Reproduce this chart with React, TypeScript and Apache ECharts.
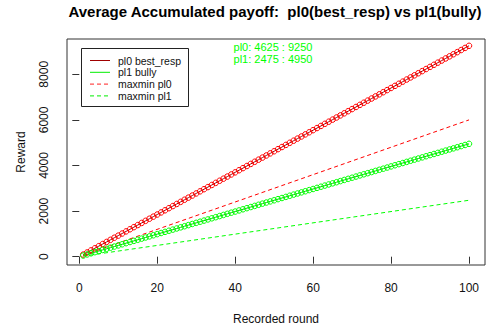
import React, { useEffect, useRef } from "react";
import * as echarts from "echarts";

const rounds = [
  1, 2, 3, 4, 5, 6, 7, 8, 9, 10, 11, 12, 13, 14, 15, 16, 17, 18, 19, 20,
  21, 22, 23, 24, 25, 26, 27, 28, 29, 30, 31, 32, 33, 34, 35, 36, 37, 38, 39, 40,
  41, 42, 43, 44, 45, 46, 47, 48, 49, 50, 51, 52, 53, 54, 55, 56, 57, 58, 59, 60,
  61, 62, 63, 64, 65, 66, 67, 68, 69, 70, 71, 72, 73, 74, 75, 76, 77, 78, 79, 80,
  81, 82, 83, 84, 85, 86, 87, 88, 89, 90, 91, 92, 93, 94, 95, 96, 97, 98, 99, 100,
];

const pl0BestResp = [
  92.5, 185, 277.5, 370, 462.5, 555, 647.5, 740, 832.5, 925,
  1017.5, 1110, 1202.5, 1295, 1387.5, 1480, 1572.5, 1665, 1757.5, 1850,
  1942.5, 2035, 2127.5, 2220, 2312.5, 2405, 2497.5, 2590, 2682.5, 2775,
  2867.5, 2960, 3052.5, 3145, 3237.5, 3330, 3422.5, 3515, 3607.5, 3700,
  3792.5, 3885, 3977.5, 4070, 4162.5, 4255, 4347.5, 4440, 4532.5, 4625,
  4717.5, 4810, 4902.5, 4995, 5087.5, 5180, 5272.5, 5365, 5457.5, 5550,
  5642.5, 5735, 5827.5, 5920, 6012.5, 6105, 6197.5, 6290, 6382.5, 6475,
  6567.5, 6660, 6752.5, 6845, 6937.5, 7030, 7122.5, 7215, 7307.5, 7400,
  7492.5, 7585, 7677.5, 7770, 7862.5, 7955, 8047.5, 8140, 8232.5, 8325,
  8417.5, 8510, 8602.5, 8695, 8787.5, 8880, 8972.5, 9065, 9157.5, 9250,
];

const pl1Bully = [
  49.5, 99, 148.5, 198, 247.5, 297, 346.5, 396, 445.5, 495,
  544.5, 594, 643.5, 693, 742.5, 792, 841.5, 891, 940.5, 990,
  1039.5, 1089, 1138.5, 1188, 1237.5, 1287, 1336.5, 1386, 1435.5, 1485,
  1534.5, 1584, 1633.5, 1683, 1732.5, 1782, 1831.5, 1881, 1930.5, 1980,
  2029.5, 2079, 2128.5, 2178, 2227.5, 2277, 2326.5, 2376, 2425.5, 2475,
  2524.5, 2574, 2623.5, 2673, 2722.5, 2772, 2821.5, 2871, 2920.5, 2970,
  3019.5, 3069, 3118.5, 3168, 3217.5, 3267, 3316.5, 3366, 3415.5, 3465,
  3514.5, 3564, 3613.5, 3663, 3712.5, 3762, 3811.5, 3861, 3910.5, 3960,
  4009.5, 4059, 4108.5, 4158, 4207.5, 4257, 4306.5, 4356, 4405.5, 4455,
  4504.5, 4554, 4603.5, 4653, 4702.5, 4752, 4801.5, 4851, 4900.5, 4950,
];

const maxminRounds = [1, 100];
const maxminPl0 = [60, 6000];
const maxminPl1 = [24.75, 2475];

const xTicks = [0, 20, 40, 60, 80, 100];
const yTicks = [0, 2000, 4000, 6000, 8000];

const titleText = "Average Accumulated payoff:  pl0(best_resp) vs pl1(bully)";
const annotationLines = ["pl0: 4625 : 9250", "pl1: 2475 : 4950"];
const legendLabels = ["pl0 best_resp", "pl1 bully", "maxmin pl0", "maxmin pl1"];

const FONT = "'Liberation Sans', Arial, Helvetica, sans-serif";

const pairs = (xs: number[], ys: number[]) => xs.map((x, i) => [x, ys[i]]);

export default function App() {
  const ref = useRef<HTMLDivElement>(null);

  useEffect(() => {
    document.body.style.margin = "0";
    if (!ref.current) return;
    const chart = echarts.init(ref.current, undefined, { renderer: "svg" });

    const legendColors = ["#a00000", "#00ee00", "#ff2020", "#00ee00"];
    const legendDash: (number[] | null)[] = [null, null, [4, 3], [4, 3]];
    const rowY = [60.5, 72.3, 84.1, 95.9];

    const legendGraphics: any[] = [
      {
        type: "rect",
        shape: { x: 81.5, y: 48.5, width: 107, height: 58 },
        style: { stroke: "#222", fill: "#fff", lineWidth: 1 },
        z: 100,
      },
    ];
    legendLabels.forEach((lab, i) => {
      legendGraphics.push({
        type: "line",
        shape: { x1: 90, y1: rowY[i], x2: 110, y2: rowY[i] },
        style: {
          stroke: legendColors[i],
          lineWidth: 1,
          lineDash: legendDash[i] || undefined,
        },
        z: 101,
      });
      legendGraphics.push({
        type: "text",
        x: 118,
        y: rowY[i],
        style: {
          text: lab,
          fill: "#111",
          font: `10.5px ${FONT}`,
          textVerticalAlign: "middle",
          textAlign: "left",
        },
        z: 101,
      });
    });

    const annotationGraphics = annotationLines.map((t, i) => ({
      type: "text",
      x: 273,
      y: 46.7 + i * 12.4,
      style: {
        text: t,
        fill: "#00ff00",
        font: `11px ${FONT}`,
        textAlign: "center",
        textVerticalAlign: "middle",
      },
      z: 101,
    }));

    const titleGraphic = {
      type: "text",
      x: 275,
      y: 11,
      style: {
        text: titleText,
        fill: "#000",
        font: `bold 15px ${FONT}`,
        textAlign: "center",
        textVerticalAlign: "middle",
      },
      z: 101,
    };

    chart.setOption({
      animation: false,
      backgroundColor: "#ffffff",
      grid: {
        left: 67,
        top: 39,
        width: 418,
        height: 226,
        show: true,
        borderColor: "#333",
        borderWidth: 1,
        backgroundColor: "transparent",
        containLabel: false,
      },
      xAxis: {
        type: "value",
        min: -3.156,
        max: 104.1,
        name: "Recorded round",
        nameLocation: "middle",
        nameGap: 48,
        nameTextStyle: { fontFamily: FONT, fontSize: 12, color: "#111" },
        axisLine: { show: false },
        splitLine: { show: false },
        axisTick: {
          show: true,
          length: 7,
          lineStyle: { color: "#333" },
          customValues: xTicks,
        },
        axisLabel: {
          fontFamily: FONT,
          fontSize: 12,
          color: "#111",
          margin: 17,
          customValues: xTicks,
          formatter: (v: number) => String(v),
        },
      },
      yAxis: {
        type: "value",
        min: -364,
        max: 9548,
        name: "Reward",
        nameLocation: "middle",
        nameGap: 40,
        nameRotate: 90,
        nameTextStyle: { fontFamily: FONT, fontSize: 12, color: "#111" },
        axisLine: { show: false },
        splitLine: { show: false },
        axisTick: {
          show: true,
          length: 7,
          lineStyle: { color: "#333" },
          customValues: yTicks,
        },
        axisLabel: {
          fontFamily: FONT,
          fontSize: 12,
          color: "#111",
          margin: 17,
          rotate: 90,
          customValues: yTicks,
          formatter: (v: number) => String(v),
        },
      },
      graphic: [titleGraphic, ...legendGraphics, ...annotationGraphics],
      series: [
        {
          name: "pl0 best_resp",
          type: "line",
          data: pairs(rounds, pl0BestResp),
          symbol: "circle",
          symbolSize: 5.5,
          showAllSymbol: true,
          lineStyle: { color: "#a00000", width: 1 },
          itemStyle: {
            color: "rgba(0,0,0,0)",
            borderColor: "#ff0000",
            borderWidth: 1,
          },
        },
        {
          name: "pl1 bully",
          type: "line",
          data: pairs(rounds, pl1Bully),
          symbol: "circle",
          symbolSize: 5.5,
          showAllSymbol: true,
          lineStyle: { color: "#00cc00", width: 1 },
          itemStyle: {
            color: "rgba(0,0,0,0)",
            borderColor: "#00ff00",
            borderWidth: 1,
          },
        },
        {
          name: "maxmin pl0",
          type: "line",
          data: pairs(maxminRounds, maxminPl0),
          symbol: "none",
          lineStyle: { color: "#ff0000", width: 1, type: [4, 3] },
        },
        {
          name: "maxmin pl1",
          type: "line",
          data: pairs(maxminRounds, maxminPl1),
          symbol: "none",
          lineStyle: { color: "#00ff00", width: 1, type: [4, 3] },
        },
      ],
    });

    return () => chart.dispose();
  }, []);

  return (
    <div
      ref={ref}
      style={{ position: "fixed", left: 0, top: 0, width: 486, height: 332 }}
    />
  );
}
